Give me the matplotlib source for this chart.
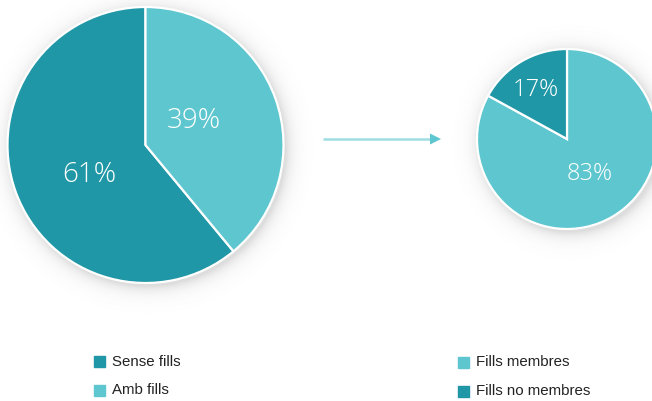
import numpy as np
import matplotlib
matplotlib.use("Agg")
import matplotlib.pyplot as plt
from matplotlib.patches import Rectangle

# Data
left_categories = ["Sense fills", "Amb fills"]
left_values = [61, 39]
right_categories = ["Fills membres", "Fills no membres"]
right_values = [83, 17]

DARK = "#1f97a6"
LIGHT = "#5ec6cf"
left_colors = [DARK, LIGHT]
right_colors = [LIGHT, DARK]

W, H = 652, 401
fig = plt.figure(figsize=(W / 100, H / 100), dpi=100)
ax = fig.add_axes([0, 0, 1, 1])

def Y(py):
    return H - py

# soft shadows
yy, xx = np.mgrid[0:H, 0:W] + 0.5
shadow = np.zeros((H, W))
for cx, cy, r in [(148, 148, 138), (570, 142, 90)]:
    d = np.sqrt((xx - cx) ** 2 + (yy - cy) ** 2) - r
    a = np.where(d > 0, 0.2 * np.exp(-d / 7.0), 0.2)
    shadow = np.maximum(shadow, a)
img = np.zeros((H, W, 4))
img[..., :3] = 0.35
img[..., 3] = shadow
ax.imshow(img, extent=(0, W, 0, H), origin="upper", zorder=0, interpolation="bilinear")

# left pie
wl, _ = ax.pie(left_values, colors=left_colors, startangle=90, counterclock=True,
               center=(145.5, Y(145)), radius=138, frame=True,
               wedgeprops=dict(edgecolor="white", linewidth=1.6))
# right pie
wr, _ = ax.pie(right_values, colors=right_colors, startangle=90, counterclock=False,
               center=(567, Y(139)), radius=90, frame=True,
               wedgeprops=dict(edgecolor="white", linewidth=1.6))
for w in wl + wr:
    w.set_zorder(2)

lab_font = dict(family=["Open Sans", "DejaVu Sans"], fontweight="light", color="white",
                ha="center", va="center", zorder=3)
ax.text(89, Y(175.5), f"{left_values[0]}%", fontsize=20, **lab_font)
ax.text(194, Y(121.5), f"{left_values[1]}%", fontsize=20, **lab_font)
ax.text(590, Y(174.5), f"{right_values[0]}%", fontsize=17, **lab_font)
ax.text(536, Y(89.5), f"{right_values[1]}%", fontsize=17, **lab_font)

# arrow
ax.plot([323, 431], [Y(139), Y(139)], color="#9fdde3", lw=1.8, solid_capstyle="butt", zorder=3)
ax.fill([430, 441, 430], [Y(133.5), Y(139), Y(144.5)], color=LIGHT, lw=0, zorder=3)

# legends
leg_font = dict(family=["Liberation Sans", "DejaVu Sans"], fontsize=10.8, color="#222222",
                ha="left", va="center", zorder=3)
def legend(x, y0, cats, cols):
    for i, (c, col) in enumerate(zip(cats, cols)):
        y = y0 + i * 29
        ax.add_patch(Rectangle((x, Y(y + 5.5)), 11, 11, color=col, zorder=3))
        ax.text(x + 18, Y(y), c, **leg_font)

legend(94, 361.5, left_categories, left_colors)
legend(458, 362, right_categories, right_colors)

ax.set_xlim(0, W)
ax.set_ylim(0, H)
ax.set_aspect("auto")
ax.axis("off")
fig.savefig("out.png", dpi=100, facecolor="white")
